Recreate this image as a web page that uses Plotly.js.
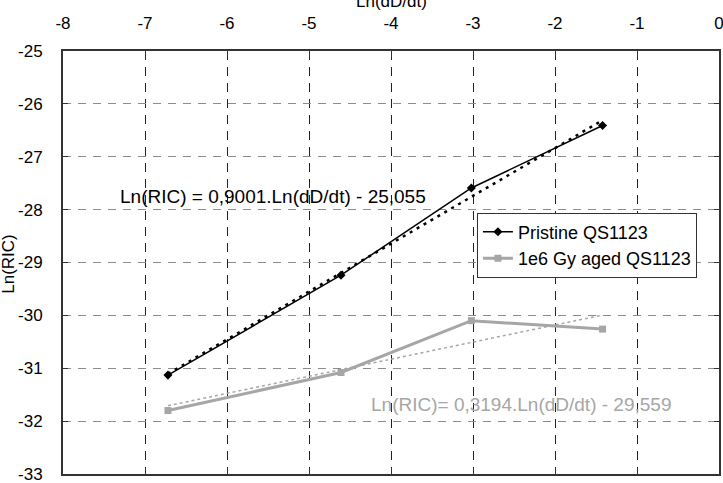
<!DOCTYPE html>
<html>
<head>
<meta charset="utf-8">
<script src="https://cdn.plot.ly/plotly-3.0.1.min.js"></script>
<style>html,body{margin:0;padding:0;background:#fff;}#chart{width:723px;height:483px;}</style>
</head>
<body>
<div id="chart"></div>
<script>
// Data
const lnDose = [-6.72, -4.61, -3.02, -1.42];
const pristineRIC = [-31.13, -29.24, -27.59, -26.41];
const agedRIC = [-31.80, -31.08, -30.10, -30.26];
const seriesNames = ["Pristine QS1123", "1e6 Gy aged QS1123"];
const fitLabels = ["Ln(RIC) = 0,9001.Ln(dD/dt) - 25,055", "Ln(RIC)= 0,3194.Ln(dD/dt) - 29,559"];
const xTitle = "Ln(dD/dt)";
const yTitle = "Ln(RIC)";
const xTicks = [-8, -7, -6, -5, -4, -3, -2, -1, 0];
const yTicks = [-33, -32, -31, -30, -29, -28, -27, -26, -25];

// least-squares linear trendline from the data
function fit(xs, ys) {
  const n = xs.length;
  const mx = xs.reduce((a, b) => a + b, 0) / n;
  const my = ys.reduce((a, b) => a + b, 0) / n;
  let sxy = 0, sxx = 0;
  for (let i = 0; i < n; i++) { sxy += (xs[i] - mx) * (ys[i] - my); sxx += (xs[i] - mx) ** 2; }
  const m = sxy / sxx, b = my - m * mx;
  const x0 = Math.min(...xs), x1 = Math.max(...xs);
  return { x: [x0, x1], y: [m * x0 + b, m * x1 + b] };
}
const fitP = fit(lnDose, pristineRIC);
const fitA = fit(lnDose, agedRIC);

const grey = "#a6a6a6";
const font = "Liberation Sans, Arial, sans-serif";
const fs = 17;
const fsText = 19;

const traces = [
  { x: lnDose, y: agedRIC, type: "scatter", mode: "lines+markers", name: seriesNames[1],
    line: { color: grey, width: 3 }, marker: { symbol: "square", size: 7, color: grey } },
  { x: fitA.x, y: fitA.y, type: "scatter", mode: "lines", showlegend: false, hoverinfo: "skip",
    line: { color: grey, width: 1.5, dash: "dot" } },
  { x: fitP.x, y: fitP.y, type: "scatter", mode: "lines", showlegend: false, hoverinfo: "skip",
    line: { color: "#000", width: 2.5, dash: "3px,5px" } },
  { x: lnDose, y: pristineRIC, type: "scatter", mode: "lines+markers", name: seriesNames[0],
    line: { color: "#000", width: 1.5 }, marker: { symbol: "diamond", size: 7, color: "#000" } }
];

const layout = {
  width: 723, height: 483,
  margin: { l: 63, r: 4, t: 51, b: 9 },
  paper_bgcolor: "#fff", plot_bgcolor: "#fff",
  font: { family: font, size: fs, color: "#000" },
  showlegend: true,
  legend: { x: 0.631, y: 0.618, xanchor: "left", yanchor: "top", bgcolor: "#fff",
    bordercolor: "#333", borderwidth: 1, font: { size: 18, family: font }, traceorder: "reversed",
    tracegroupgap: 0, itemwidth: 30 },
  xaxis: {
    side: "top", range: [-8, 0], tickvals: xTicks, ticktext: xTicks.map(String),
    showgrid: true, gridcolor: "#222", gridwidth: 1, griddash: "9px,7px",
    zeroline: false, showline: true, linecolor: "#333", linewidth: 2, mirror: "ticks",
    ticks: "inside", ticklen: 6, tickcolor: "#333", ticklabelstandoff: 13,
    ticklabeloverflow: "allow",
    tickfont: { size: fs, family: font },
    automargin: false
  },
  yaxis: {
    range: [-33, -25], tickvals: yTicks, ticktext: yTicks.map(String),
    showgrid: true, gridcolor: "#8c8c8c", gridwidth: 1, griddash: "8px,7px",
    zeroline: false, showline: true, linecolor: "#333", linewidth: 2, mirror: "ticks",
    ticks: "inside", ticklen: 5, tickcolor: "#333", ticklabelstandoff: 15,
    ticklabeloverflow: "allow",
    tickfont: { size: fs, family: font },
    automargin: false
  },
  annotations: [
    { x: 0.5, y: 1.09, xref: "paper", yref: "paper", xanchor: "center", yanchor: "bottom",
      text: xTitle, showarrow: false, font: { size: fs, color: "#000", family: font } },
    { x: -0.0823, y: 0.497, xref: "paper", yref: "paper", xanchor: "center", yanchor: "middle",
      textangle: -90, text: yTitle, showarrow: false, font: { size: fs, color: "#000", family: font } },
    { x: -5.44, y: -27.76, xref: "x", yref: "y", text: fitLabels[0], showarrow: false,
      font: { size: fsText, color: "#000", family: font } },
    { x: -2.415, y: -31.69, xref: "x", yref: "y", text: fitLabels[1], showarrow: false,
      font: { size: fsText, color: grey, family: font } }
  ]
};

Plotly.newPlot("chart", traces, layout, { displayModeBar: false, staticPlot: true });
</script>
</body>
</html>
